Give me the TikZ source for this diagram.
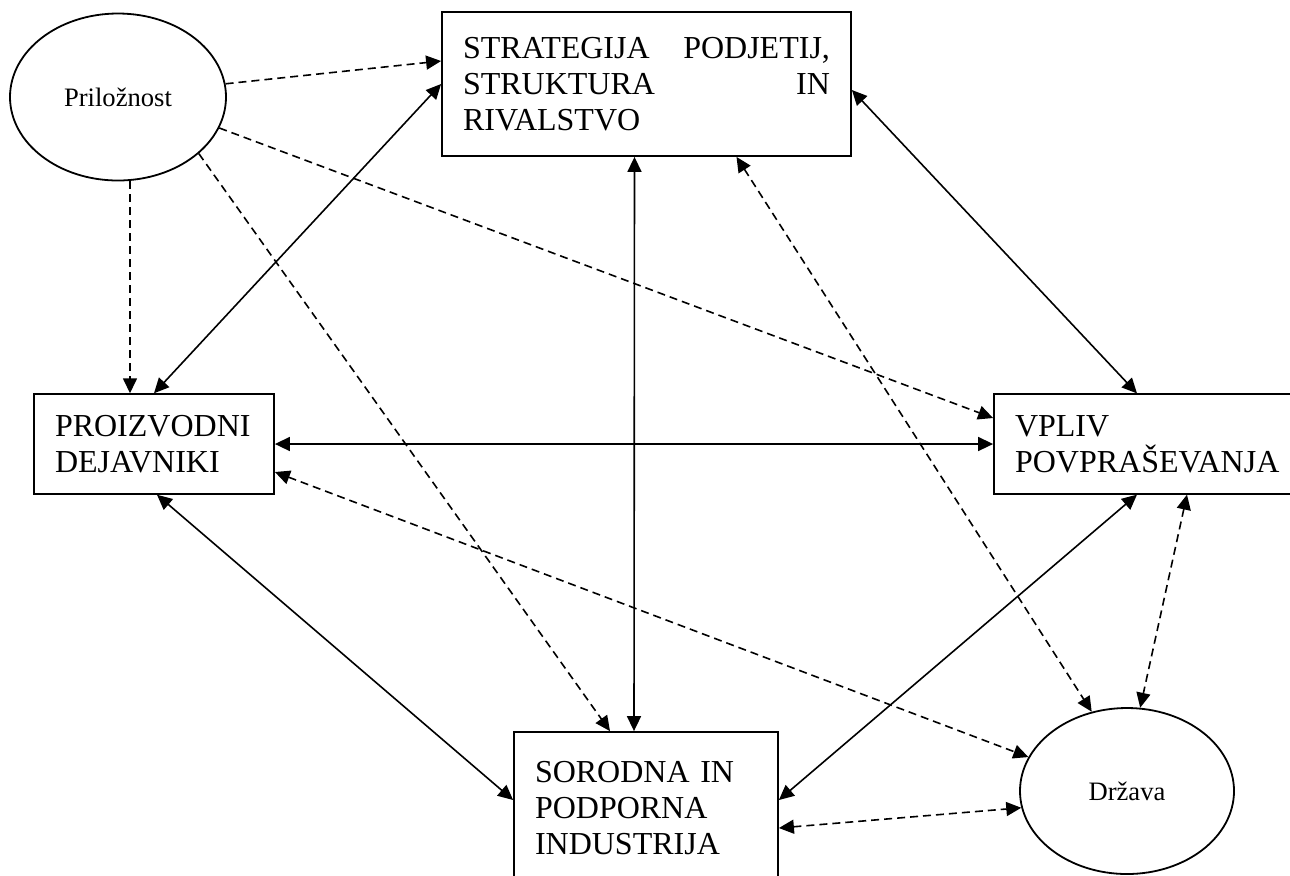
\documentclass[tikz,border=0pt]{standalone}
\usepackage{fontspec}
\setmainfont{Liberation Serif}
\usetikzlibrary{arrows.meta,calc,shapes.geometric}
\definecolor{Ink}{HTML}{000000}
\tikzset{
  sector/.style={
    draw=Ink, line width=0.9pt, inner sep=10.5pt, align=left,
    font=\fontsize{16pt}{18pt}\selectfont
  },
  chance/.style={
    ellipse, draw=Ink, line width=0.9pt, inner sep=0pt,
    font=\fontsize{13.3pt}{16pt}\selectfont
  },
  tie/.style={{Triangle[length=7.5pt,width=7pt]}-{Triangle[length=7.5pt,width=7pt]}, line width=0.8pt, draw=Ink},
  dtie/.style={tie, dash pattern=on 4pt off 2.5pt},
  push/.style={-{Triangle[length=7.5pt,width=7pt]}, line width=0.8pt, draw=Ink, dash pattern=on 4pt off 2.5pt}
}

\begin{document}
\begin{tikzpicture}[x=0.5pt,y=-0.5pt]
  \useasboundingbox (0,0) rectangle (1290,875);
  % the four corners of the diamond
  \node[sector,text width=183.5pt,minimum height=72pt] (strat) at (646.5,84)
    {STRATEGIJA\hfill PODJETIJ,\\STRUKTURA\hfill IN\\RIVALSTVO};
  \node[sector,text width=99pt,minimum height=48pt] (fac) at (154,444)
    {PROIZVODNI\\DEJAVNIKI};
  \node[sector,text width=135pt,minimum height=48pt] (dem) at (1150,444)
    {VPLIV\\POVPRAŠEVANJA};
  \node[sector,text width=111pt,minimum height=76pt] (rel) at (646,808)
    {SORODNA IN\\PODPORNA\\INDUSTRIJA};
  % outside influences
  \node[chance,minimum width=108pt,minimum height=83.5pt] (opp) at (118,97) {Priložnost};
  \node[chance,minimum width=107pt,minimum height=83pt] (gov) at (1127,791) {Država};
  % solid links
  \draw[tie] (strat.west) -- (fac.north);
  \draw[tie] ([xshift=-6pt]strat.south) -- ([xshift=-6pt]rel.north);
  \draw[tie] ([yshift=-3pt]strat.east) -- ([xshift=-6.5pt]dem.north);
  \draw[tie] (fac.east) -- (dem.west);
  \draw[tie] ([xshift=1.5pt]fac.south) -- ([yshift=4pt]rel.west);
  \draw[tie] ([xshift=-6.5pt]dem.south) -- ([yshift=4pt]rel.east);
  % chance
  \draw[push] (opp.7) -- ([yshift=11.5pt]strat.west);
  \draw[push] ([xshift=-12pt]fac.north |- opp.south) -- ([xshift=-12pt]fac.north);
  \draw[push] (opp.-17) -- ([yshift=13pt]dem.west);
  \draw[push] (opp.-35) -- ([xshift=-18pt]rel.north);
  % government
  \draw[dtie] ([xshift=45pt]strat.south) -- (gov.114);
  \draw[dtie] ([yshift=-14pt]fac.east) -- (gov.161);
  \draw[dtie] ([xshift=18.5pt]dem.south) -- (gov.81);
  \draw[dtie] ([yshift=-10pt]rel.east) -- (gov.189);
\end{tikzpicture}
\end{document}
